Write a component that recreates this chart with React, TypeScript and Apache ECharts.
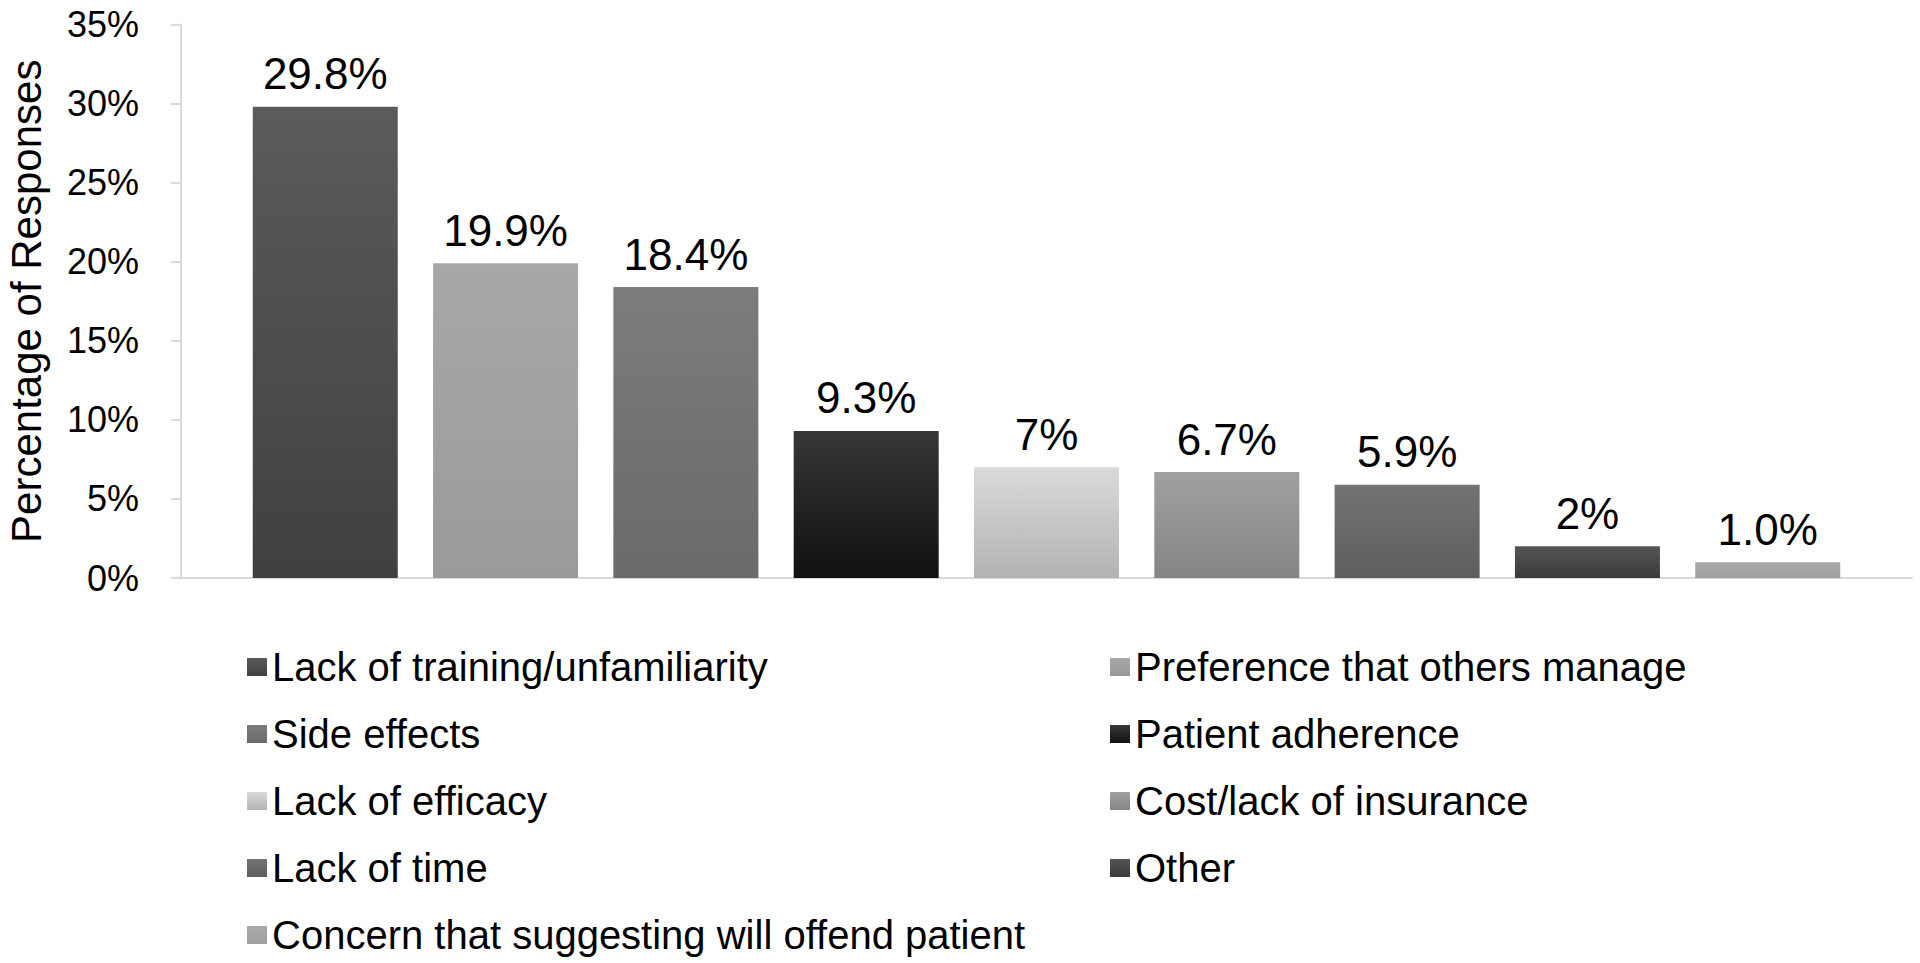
import React, { useEffect, useRef } from "react";
import * as echarts from "echarts";

const categories = [
  "Lack of training/unfamiliarity",
  "Preference that others manage",
  "Side effects",
  "Patient adherence",
  "Lack of efficacy",
  "Cost/lack of insurance",
  "Lack of time",
  "Other",
  "Concern that suggesting will offend patient",
];
const values = [29.8, 19.9, 18.4, 9.3, 7.0, 6.7, 5.9, 2.0, 1.0];
const valueLabels = ["29.8%", "19.9%", "18.4%", "9.3%", "7%", "6.7%", "5.9%", "2%", "1.0%"];
const yTicks = { min: 0, max: 35, interval: 5 };
const topColors = ["#5b5b5b", "#a8a8a8", "#7c7c7c", "#363636", "#dadada", "#a0a0a0", "#737373", "#555555", "#a9a9a9"];
const bottomColors = ["#404040", "#9a9a9a", "#6a6a6a", "#111111", "#b3b3b3", "#858585", "#5e5e5e", "#3a3a3a", "#a0a0a0"];

const FONT = "'Liberation Sans', Arial, Helvetica, sans-serif";

export default function App() {
  const ref = useRef<HTMLDivElement>(null);
  useEffect(() => {
    if (!ref.current) return;
    const chart = echarts.init(ref.current, null, { renderer: "svg" });
    const series = categories.map((name, i) => ({
      type: "bar",
      name,
      data: [[i, values[i]]],
      barWidth: 145,
      barGap: "-100%",
      itemStyle: {
        color: new echarts.graphic.LinearGradient(0, 0, 0, 1, [
          { offset: 0, color: topColors[i] },
          { offset: 1, color: bottomColors[i] },
        ]),
      },
      label: {
        show: true,
        position: "top",
        distance: 11,
        formatter: () => valueLabels[i],
        fontSize: 44,
        fontFamily: FONT,
        color: "#000",
      },
    }));
    const legendCommon = {
      orient: "vertical",
      top: 647,
      padding: 0,
      itemWidth: 20,
      itemHeight: 18,
      itemGap: 27,
      icon: "rect",
      selectedMode: false,
      textStyle: { fontSize: 40, fontFamily: FONT, color: "#000", lineHeight: 40 },
    };
    chart.setOption({
      animation: false,
      backgroundColor: "#fff",
      textStyle: { fontFamily: FONT },
      grid: { left: 181, right: 8, top: 24.5, bottom: 385, containLabel: false, outerBoundsMode: "none" },
      legend: [
        { ...legendCommon, left: 247, data: categories.filter((_, i) => i % 2 === 0) },
        { ...legendCommon, left: 1110, data: categories.filter((_, i) => i % 2 === 1) },
      ],
      xAxis: {
        type: "value",
        min: -0.8,
        max: 8.8,
        axisLabel: { show: false },
        axisTick: { show: false },
        splitLine: { show: false },
        axisLine: { show: true, onZero: false, lineStyle: { color: "#d9d9d9", width: 2 } },
      },
      yAxis: {
        type: "value",
        min: yTicks.min,
        max: yTicks.max,
        interval: yTicks.interval,
        name: "Percentage of Responses",
        nameLocation: "middle",
        nameGap: 134,
        nameTextStyle: { fontSize: 42, fontFamily: FONT, color: "#000" },
        axisLabel: { formatter: "{value}%", fontSize: 36, fontFamily: FONT, color: "#000", margin: 42 },
        axisLine: { show: true, onZero: false, lineStyle: { color: "#d9d9d9", width: 2 } },
        axisTick: { show: true, length: 10, lineStyle: { color: "#d9d9d9", width: 2 } },
        splitLine: { show: false },
      },
      series,
    });
    return () => chart.dispose();
  }, []);
  return (
    <div
      ref={ref}
      style={{ position: "fixed", left: 0, top: 0, width: 1920, height: 963, background: "#fff" }}
    />
  );
}
